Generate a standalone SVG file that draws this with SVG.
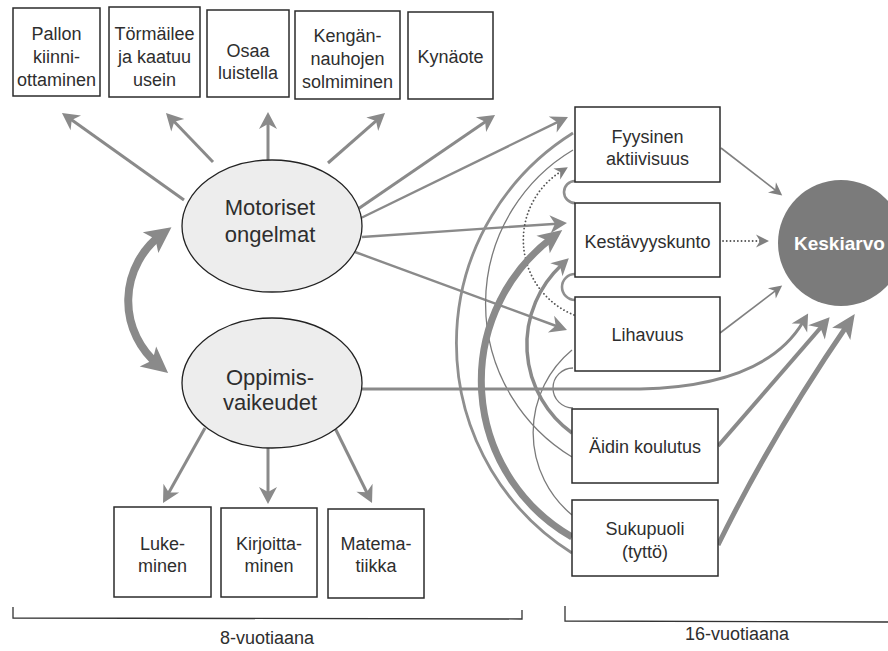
<svg xmlns="http://www.w3.org/2000/svg" width="888" height="651" viewBox="0 0 888 651">
<style>
.box{fill:#fff;stroke:#2b2b2b;stroke-width:1.5}
.t{font-family:"Liberation Sans",Arial,sans-serif;font-size:18px;fill:#2e2e2e;text-anchor:middle}
.te{font-family:"Liberation Sans",Arial,sans-serif;font-size:22px;fill:#2e2e2e;text-anchor:middle}
.ell{fill:#ededed;stroke:#222;stroke-width:1.3}
.a{fill:none;stroke:#8a8a8a;stroke-width:3}
.a2{fill:none;stroke:#8a8a8a;stroke-width:2.4}
.s{fill:none;stroke:#808080;stroke-width:1.6}
.c{fill:none;stroke:#7a7a7a;stroke-width:1.3}
.br{fill:none;stroke:#333;stroke-width:1.3}
</style>
<defs>
<marker id="hs" markerUnits="userSpaceOnUse" orient="auto" refX="-7" refY="0" markerWidth="20" markerHeight="20" overflow="visible"><path d="M0,0 L-13,-6.5 L-9,0 L-13,6.5 Z" fill="#808080"/></marker>
<marker id="hm" markerUnits="userSpaceOnUse" orient="auto" refX="-10" refY="0" markerWidth="30" markerHeight="30" overflow="visible"><path d="M0,0 L-17,-9 L-12,0 L-17,9 Z" fill="#8a8a8a"/></marker>
<marker id="hl" markerUnits="userSpaceOnUse" orient="auto" refX="-11" refY="0" markerWidth="30" markerHeight="30" overflow="visible"><path d="M0,0 L-20,-11 L-14,0 L-20,11 Z" fill="#8a8a8a"/></marker>
<marker id="hb" markerUnits="userSpaceOnUse" orient="auto" refX="-12" refY="0" markerWidth="40" markerHeight="40" overflow="visible"><path d="M0,0 L-24,-11 L-18,0 L-24,11 Z" fill="#8a8a8a"/></marker>
<marker id="hx" markerUnits="userSpaceOnUse" orient="auto-start-reverse" refX="-12" refY="0" markerWidth="40" markerHeight="40" overflow="visible"><path d="M0,0 L-26,-13 L-20,0 L-26,13 Z" fill="#8a8a8a"/></marker>
</defs>

<g id="connectors">
<!-- Motoriset to top boxes -->
<path class="a" d="M184,200 L70.1,118.8" marker-end="url(#hm)"/>
<path class="a" d="M213,162 L172.9,120.2" marker-end="url(#hm)"/>
<path class="a" d="M268,160 L268,122" marker-end="url(#hm)"/>
<path class="a" d="M328,163 L377.5,119.6" marker-end="url(#hm)"/>
<path class="a" d="M358,209 L486.8,120.7" marker-end="url(#hm)"/>
<!-- Motoriset to right boxes -->
<path class="a2" d="M361,218 L559,121.4" marker-end="url(#hm)"/>
<path class="a2" d="M362,237 L557,223.7" marker-end="url(#hm)"/>
<path class="a2" d="M355,252 L557.6,326.5" marker-end="url(#hm)"/>
<!-- Oppimis to bottom boxes -->
<path class="a" d="M205,428 L167.9,494.3" marker-end="url(#hm)"/>
<path class="a" d="M268,448 L268,494" marker-end="url(#hm)"/>
<path class="a" d="M335,428 L367.6,494" marker-end="url(#hm)"/>
<!-- double arrow between ellipses -->
<path fill="none" stroke="#8a8a8a" stroke-width="8" d="M161.8,234.3 A83,83 0 0 0 158.8,365.3" marker-start="url(#hx)" marker-end="url(#hx)"/>
<!-- correlation arcs -->
<path fill="none" stroke="#8f8f8f" stroke-width="2.8" d="M573,133 A248,248 0 0 0 572,553"/>
<path class="c" d="M573,150 A179,179 0 0 0 572,457"/>
<path class="c" d="M572,350 A107,107 0 0 0 572,515"/>
<path fill="none" stroke="#8f8f8f" stroke-width="2.6" d="M575,181 A11,11 0 0 0 575,203"/>
<path fill="none" stroke="#8f8f8f" stroke-width="2.6" d="M575,274 A13,13 0 0 0 575,300"/>
<path class="c" d="M573,368 A20,20 0 0 0 573,408"/>
<path fill="none" stroke="#555" stroke-width="1.8" stroke-dasharray="0.1 3.6" stroke-linecap="round" d="M574,315 A81,81 0 0 1 561.9,170.9" marker-end="url(#hs)"/>
<path fill="none" stroke="#8a8a8a" stroke-width="7" d="M572,537 A180,180 0 0 1 552.7,237.2" marker-end="url(#hb)"/>
<path fill="none" stroke="#8a8a8a" stroke-width="3.5" d="M572,433 A109,109 0 0 1 561.5,265" marker-end="url(#hm)"/>
<!-- to Keskiarvo -->
<path class="s" d="M721,148 L776.7,191.1" marker-end="url(#hs)"/>
<path class="s" d="M720,333 L776.6,289.8" marker-end="url(#hs)"/>
<path fill="none" stroke="#555" stroke-width="1.8" stroke-dasharray="0.1 3.6" stroke-linecap="round" d="M723,241 L762,241" marker-end="url(#hs)"/>
<path class="a" d="M362,389 L640,389 Q765,386 803,322" marker-end="url(#hm)"/>
<path fill="none" stroke="#8a8a8a" stroke-width="4" d="M718,446 L822.4,325.6" marker-end="url(#hl)"/>
<path fill="none" stroke="#8a8a8a" stroke-width="5" d="M718,545 Q772,435 848,324" marker-end="url(#hb)"/>
</g>

<g id="pallon"><rect class="box" x="13" y="8" width="87" height="88"/>
<text class="t" x="56.5" y="40">Pallon</text><text class="t" x="56.5" y="63">kiinni-</text><text class="t" x="56.5" y="86">ottaminen</text></g>
<g id="tormailee"><rect class="box" x="109" y="7" width="91" height="90"/>
<text class="t" x="154.5" y="40">Törmäilee</text><text class="t" x="154.5" y="63">ja kaatuu</text><text class="t" x="154.5" y="86">usein</text></g>
<g id="osaa"><rect class="box" x="207" y="10" width="82" height="87"/>
<text class="t" x="248" y="57">Osaa</text><text class="t" x="248" y="79">luistella</text></g>
<g id="kengan"><rect class="box" x="295" y="11" width="105" height="88"/>
<text class="t" x="347.5" y="42">Kengän-</text><text class="t" x="347.5" y="65">nauhojen</text><text class="t" x="347.5" y="88">solmiminen</text></g>
<g id="kynaote"><rect class="box" x="408" y="12" width="85" height="87"/>
<text class="t" x="450.5" y="63">Kynäote</text></g>

<g id="motoriset"><ellipse class="ell" cx="272" cy="226" rx="90" ry="66"/>
<text class="te" x="270" y="215">Motoriset</text><text class="te" x="270" y="242">ongelmat</text></g>
<g id="oppimis"><ellipse class="ell" cx="272" cy="383" rx="90" ry="65"/>
<text class="te" x="270" y="385">Oppimis-</text><text class="te" x="270" y="410">vaikeudet</text></g>

<g id="luke"><rect class="box" x="114" y="507" width="97" height="90"/>
<text class="t" x="162.5" y="550">Luke-</text><text class="t" x="162.5" y="572">minen</text></g>
<g id="kirjoitta"><rect class="box" x="221" y="508" width="96" height="89"/>
<text class="t" x="269" y="550">Kirjoitta-</text><text class="t" x="269" y="572">minen</text></g>
<g id="matema"><rect class="box" x="328" y="509" width="96" height="89"/>
<text class="t" x="376" y="550">Matema-</text><text class="t" x="376" y="572">tiikka</text></g>

<g id="fyysinen"><rect class="box" x="575" y="107" width="145" height="75"/>
<text class="t" x="647.5" y="143">Fyysinen</text><text class="t" x="647.5" y="165">aktiivisuus</text></g>
<g id="kestavyys"><rect class="box" x="575" y="203" width="145" height="74"/>
<text class="t" x="647.5" y="248">Kestävyyskunto</text></g>
<g id="lihavuus"><rect class="box" x="575" y="297" width="145" height="74"/>
<text class="t" x="647.5" y="341">Lihavuus</text></g>
<g id="aidin"><rect class="box" x="572" y="409" width="146" height="74"/>
<text class="t" x="645" y="453">Äidin koulutus</text></g>
<g id="sukupuoli"><rect class="box" x="572" y="500" width="146" height="76"/>
<text class="t" x="645" y="535">Sukupuoli</text><text class="t" x="645" y="558">(tyttö)</text></g>

<g id="keskiarvo"><circle cx="841" cy="243" r="63" fill="#7b7b7b"/>
<text x="794" y="250" font-family="Liberation Sans, Arial, sans-serif" font-size="19" font-weight="bold" fill="#fff">Keskiarvo</text></g>

<g id="brackets">
<path class="br" d="M13,607 L13,618 L522,619 L522,610"/>
<text class="t" x="267" y="644">8-vuotiaana</text>
<path class="br" d="M565,606 L565,621 L888,622"/>
<text class="t" x="737" y="640">16-vuotiaana</text>
</g>
</svg>
